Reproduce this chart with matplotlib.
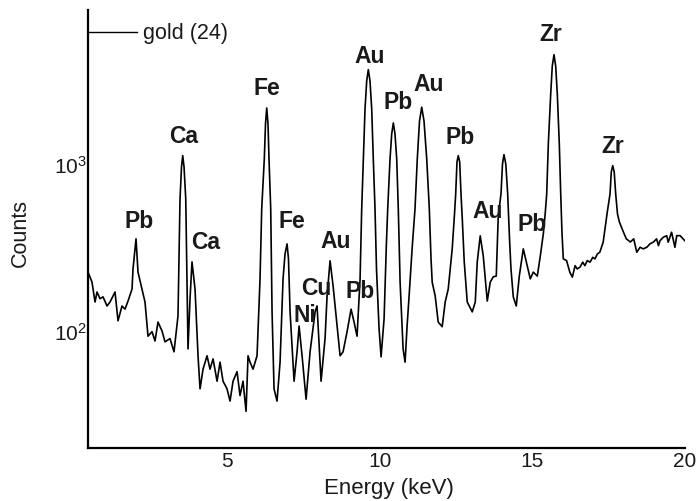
import matplotlib
matplotlib.use("Agg")
import matplotlib.pyplot as plt
from matplotlib.ticker import FixedLocator, NullLocator

plt.rcParams['font.family'] = ['Liberation Sans', 'DejaVu Sans']
plt.rcParams['mathtext.fontset'] = 'custom'
plt.rcParams['mathtext.rm'] = 'Liberation Sans'
plt.rcParams['mathtext.it'] = 'Liberation Sans'
plt.rcParams['mathtext.default'] = 'regular'

# Spectrum: energy (keV) and counts
energy = [0.445, 0.576, 0.675, 0.740, 0.839, 0.937, 1.068, 1.166, 1.330, 1.428,
          1.559, 1.657, 1.756, 1.887, 1.919, 2.018, 2.083, 2.214, 2.312, 2.411,
          2.542, 2.640, 2.738, 2.869, 2.968, 3.131, 3.262, 3.393,
          3.426, 3.459, 3.508, 3.548, 3.591, 3.647, 3.688, 3.721, 3.787, 3.852,
          3.951, 4.049, 4.115, 4.213, 4.344, 4.442, 4.541, 4.672, 4.770, 4.868,
          4.999, 5.098, 5.196, 5.327, 5.425, 5.523, 5.622, 5.687, 5.753, 5.851,
          5.982, 6.080,
          6.135, 6.220, 6.259, 6.299, 6.341, 6.374, 6.430, 6.474, 6.539, 6.637,
          6.736, 6.834, 6.898, 6.965, 7.012, 7.064, 7.195, 7.293, 7.359, 7.457,
          7.588, 7.719, 7.883, 7.948, 8.079, 8.210, 8.276, 8.374, 8.473, 8.604,
          8.702, 8.800, 8.931, 9.062, 9.160, 9.258, 9.357,
          9.410, 9.463, 9.519, 9.574, 9.627, 9.682, 9.738, 9.790, 9.846, 9.895,
          9.979, 10.045, 10.143, 10.219,
          10.262, 10.338, 10.393, 10.446, 10.501, 10.557, 10.609, 10.668, 10.766, 10.831,
          10.897, 10.963, 11.061,
          11.156, 11.231, 11.304, 11.376, 11.451, 11.540, 11.625, 11.681, 11.719, 11.817,
          11.916, 12.047, 12.145, 12.244, 12.375,
          12.450, 12.489, 12.531, 12.574, 12.620, 12.663, 12.705, 12.769, 12.867, 13.031,
          13.130, 13.195, 13.293, 13.392, 13.523, 13.621, 13.720, 13.818, 13.883,
          13.973, 14.022, 14.071, 14.130, 14.192, 14.252, 14.300, 14.375, 14.473, 14.572,
          14.703, 14.834, 14.932, 15.031, 15.162, 15.260,
          15.359, 15.420, 15.470, 15.523, 15.601, 15.653, 15.709, 15.764, 15.817, 15.883,
          15.929, 15.972, 16.014,
          16.12, 16.23, 16.31, 16.40, 16.47, 16.56, 16.65, 16.72, 16.80, 16.89,
          16.98, 17.05, 17.13, 17.21, 17.32,
          17.455, 17.544, 17.586, 17.632, 17.681, 17.730, 17.789, 17.849, 17.980, 18.078,
          18.209, 18.32, 18.42, 18.53, 18.63, 18.75, 18.85, 18.96, 19.07, 19.13,
          19.18, 19.29, 19.40, 19.45, 19.56, 19.67, 19.73, 19.84, 19.94, 20.0]
counts = [225, 196, 149, 171, 156, 160, 141, 149, 171, 115,
          141, 135, 151, 178, 235, 356, 225, 178, 149, 93,
          99, 87, 113, 100, 86, 90, 75, 123,
          270, 617, 959, 1122, 959, 617, 196, 78, 156, 259,
          178, 71, 45, 59, 71, 59, 68, 50, 65, 50,
          45, 38, 50, 57, 41, 50, 33, 71, 65, 59,
          71, 205,
          538, 1072, 1737, 2163, 1737, 1072, 538, 130, 45, 38,
          65, 205, 289, 332, 270, 130, 50, 75, 107, 71,
          39, 75, 130, 141, 50, 90, 162, 263, 186, 107,
          71, 75, 99, 135, 113, 93, 205,
          538, 1072, 2133, 3140, 3672, 3140, 2133, 1072, 538, 235,
          103, 70, 118, 332,
          538, 1072, 1513, 1760, 1513, 1072, 538, 196, 78, 65,
          107, 162, 310,
          538, 1072, 1808, 2187, 1808, 1072, 538, 270, 196, 162,
          113, 106, 149, 178, 310,
          502, 661, 1028, 1122, 1028, 661, 468, 259, 149, 130,
          149, 259, 371, 281, 151, 196, 211, 213, 488,
          661, 1000, 1137, 1000, 661, 356, 235, 160, 141, 213,
          310, 245, 205, 225, 213, 281,
          381, 502, 661, 1318, 2625, 3864, 4510, 3864, 2625, 1318,
          661, 381, 270,
          264, 224, 210, 246, 235, 241, 258, 246, 264, 258,
          276, 270, 289, 296, 340,
          516, 661, 896, 977, 896, 661, 502, 450, 392, 356,
          341, 356, 296, 317, 310, 317, 332, 340, 356, 324,
          347, 364, 372, 340, 390, 317, 372, 372, 356, 346]

# Peak labels
peak_names = ['Pb', 'Ca', 'Ca', 'Fe', 'Fe', 'Au', 'Cu', 'Ni', 'Pb', 'Au',
              'Pb', 'Au', 'Pb', 'Au', 'Pb', 'Zr', 'Zr']
peak_x = [2.12, 3.59, 4.31, 6.31, 7.13, 8.57, 7.91, 7.55, 9.36, 9.68,
          10.60, 11.61, 12.62, 13.55, 14.99, 15.61, 17.64]
peak_y = [456, 1472, 341, 2851, 456, 346, 183, 125, 174, 4436,
          2350, 3013, 1452, 524, 437, 6081, 1282]

x_ticks = [5, 10, 15, 20]
y_ticks = [100, 1000]
y_ticklabels = ['$10^2$', '$10^3$']

legend_text = 'gold (24)'
legend_level = 6166

assert len(energy) == len(counts)

fig = plt.figure(figsize=(6.99, 5.02), dpi=100)
ax = fig.add_axes([88/699, 1-449/502, (685-88)/699, (449-11)/502])

ax.plot(energy, counts, color='black', lw=1.2)
ax.set_yscale('log')
ax.set_xlim(0.445, 20.0)
ax.set_ylim(19.9, 8356)

for s in ['top', 'right']:
    ax.spines[s].set_visible(False)
for s in ['left', 'bottom']:
    ax.spines[s].set_linewidth(1.6)

ax.xaxis.set_major_locator(FixedLocator(x_ticks))
ax.yaxis.set_major_locator(FixedLocator(y_ticks))
ax.yaxis.set_minor_locator(NullLocator())
ax.set_yticklabels(y_ticklabels)
ax.tick_params(axis='both', length=0, labelsize=15, labelcolor='#1a1a1a')
ax.tick_params(axis='x', pad=2)
ax.tick_params(axis='y', pad=1)

for name, px, py in zip(peak_names, peak_x, peak_y):
    ax.text(px, py, name, ha='center', va='center', fontsize=16.5,
            fontweight='bold', color='#1a1a1a')

# gold legend line
ax.plot([0.445, 2.05], [legend_level, legend_level], color='black', lw=1.0,
        clip_on=False)
ax.text(2.25, legend_level, legend_text, ha='left', va='center', fontsize=15.5,
        color='#1a1a1a')

fig.text(389/699, 1-489/502, 'Energy (keV)', ha='center', va='center',
         fontsize=16, color='#1a1a1a')
fig.text(20/699, 1-233/502, 'Counts', ha='center', va='center',
         rotation=90, fontsize=15.5, color='#1a1a1a')

fig.savefig('out.png', dpi=100)
